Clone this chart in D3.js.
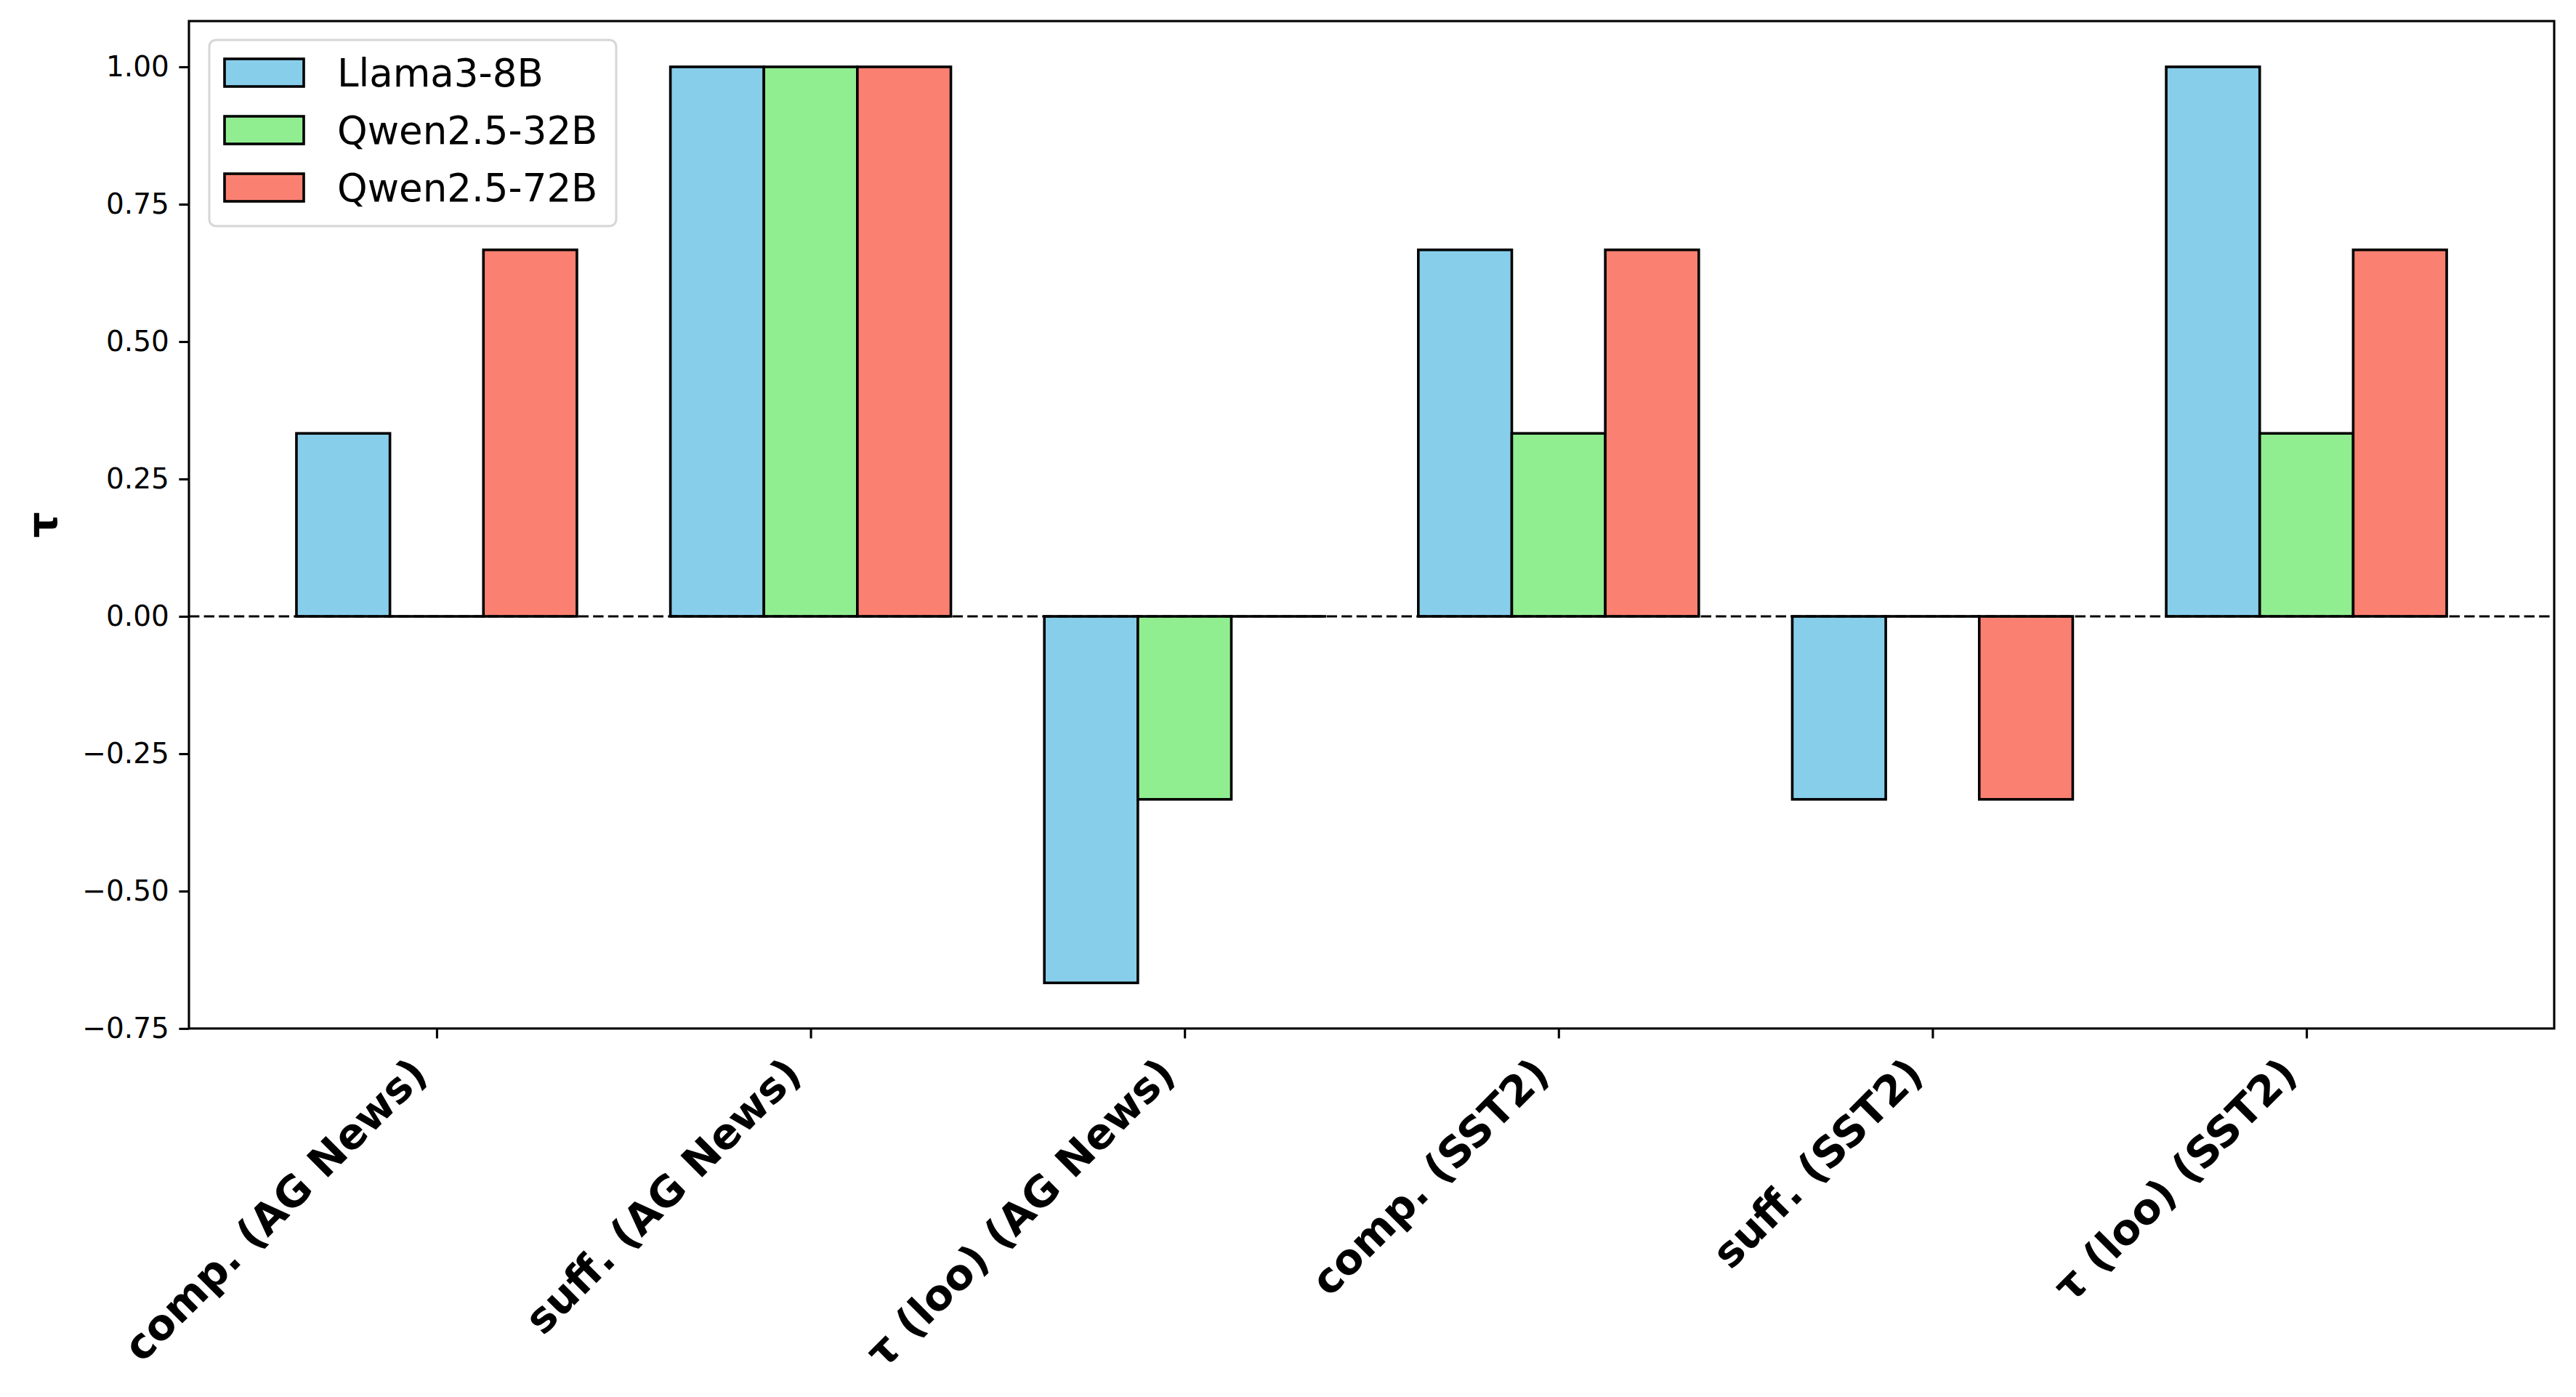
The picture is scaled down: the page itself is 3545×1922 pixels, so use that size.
<!DOCTYPE html>
<html>
<head>
<meta charset="utf-8">
<script src="https://cdn.jsdelivr.net/npm/d3@7"></script>
<style>
  body { margin: 0; background: #fff; }
  svg { display: block; }
</style>
</head>
<body>
<div id="vis-holder"></div>
<script>
// Data
const categories = ["comp. (AG News)", "suff. (AG News)", "τ (loo) (AG News)",
  "comp. (SST2)", "suff. (SST2)", "τ (loo) (SST2)"];
const models = ["Llama3-8B", "Qwen2.5-32B", "Qwen2.5-72B"];
const llama = [0.333, 1.0, -0.667, 0.667, -0.333, 1.0];
const qwen32 = [0.0, 1.0, -0.333, 0.333, 0.0, 0.333];
const qwen72 = [0.667, 1.0, 0.0, 0.667, -0.333, 0.667];
const yTicks = [-0.75, -0.5, -0.25, 0, 0.25, 0.5, 0.75, 1.0];

const series = [llama, qwen32, qwen72];
const colors = ["#87CEEB", "#90EE90", "#FA8072"];

// Dimensions
const width = 3545;
const height = 1922;
const margin = { top: 29, right: 30, bottom: 507, left: 260 };
const barW = 0.25;

const svg = d3.select("#vis-holder")
  .append("svg")
  .attr("width", width)
  .attr("height", height);

// Scales (matplotlib-style auto margins)
const x = d3.scaleLinear()
  .domain([-0.6625, 5.6625])
  .range([margin.left, width - margin.right]);

const y = d3.scaleLinear()
  .domain([-0.75, 1.0 + 0.0833])
  .range([height - margin.bottom, margin.top]);

// Bars (zero values still show as a flat outline)
series.forEach((vals, s) => {
  svg.append("g")
    .selectAll("rect")
    .data(vals)
    .enter()
    .append("rect")
    .attr("x", (d, i) => x(i + (s - 1) * barW - barW / 2))
    .attr("width", x(barW) - x(0))
    .attr("y", (d) => y(Math.max(0, d)))
    .attr("height", (d) => Math.max(0.01, Math.abs(y(d) - y(0))))
    .attr("fill", colors[s])
    .attr("stroke", "black")
    .attr("stroke-width", 3.6);
});

// Zero line
svg.append("line")
  .attr("x1", x.range()[0])
  .attr("x2", x.range()[1])
  .attr("y1", y(0))
  .attr("y2", y(0))
  .attr("stroke", "black")
  .attr("stroke-width", 3.2)
  .attr("stroke-dasharray", "14.4,6.2");

// Frame
svg.append("rect")
  .attr("x", x.range()[0])
  .attr("y", y.range()[1])
  .attr("width", x.range()[1] - x.range()[0])
  .attr("height", y.range()[0] - y.range()[1])
  .attr("fill", "none")
  .attr("stroke", "black")
  .attr("stroke-width", 3.1);

// Y axis
const yAxis = svg.append("g")
  .attr("transform", `translate(${x.range()[0]},0)`)
  .call(d3.axisLeft(y)
    .tickValues(yTicks)
    .tickFormat(d3.format(".2f"))
    .tickSize(13.6)
    .tickPadding(13.6));
yAxis.select(".domain").remove();
yAxis.selectAll(".tick line").attr("stroke-width", 3.1);
yAxis.selectAll("text")
  .attr("font-family", "DejaVu Sans")
  .attr("font-size", "39px")
  .attr("fill", "black");

// X axis
const xAxis = svg.append("g")
  .attr("transform", `translate(0,${y.range()[0]})`)
  .call(d3.axisBottom(x)
    .tickValues(d3.range(categories.length))
    .tickFormat((i) => categories[i])
    .tickSize(13.6));
xAxis.select(".domain").remove();
xAxis.selectAll(".tick line").attr("stroke-width", 3.1);

// rotated labels: right edge at tick, top just below tick
const labelTop = y.range()[0] + 13.6 + 13.6;
xAxis.selectAll(".tick text")
  .attr("font-family", "DejaVu Sans")
  .attr("font-weight", "bold")
  .attr("font-size", "58px")
  .attr("fill", "black")
  .attr("text-anchor", "end")
  .attr("x", 0)
  .attr("y", 0)
  .attr("dy", 0)
  .attr("transform", "rotate(-45)")
  .each(function (i) {
    const tickX = x(i);
    const b = this.getBoundingClientRect();
    const dx = tickX - b.right;
    const dy = labelTop - b.top;
    d3.select(this).attr("transform", `translate(${dx},${dy}) rotate(-45)`);
  });

// Y label
svg.append("text")
  .attr("transform", `translate(78,${(y.range()[0] + y.range()[1]) / 2}) rotate(-90)`)
  .attr("text-anchor", "middle")
  .attr("font-family", "DejaVu Sans")
  .attr("font-weight", "bold")
  .attr("font-size", "56px")
  .text("τ");

// Legend
const legend = svg.append("g");
legend.append("rect")
  .attr("x", 288)
  .attr("y", 55)
  .attr("width", 560)
  .attr("height", 256)
  .attr("rx", 9)
  .attr("fill", "white")
  .attr("fill-opacity", 0.8)
  .attr("stroke", "#d6d6d6")
  .attr("stroke-width", 3);

models.forEach((m, i) => {
  const cy = 100 + i * 79;
  legend.append("rect")
    .attr("x", 309)
    .attr("y", cy - 19)
    .attr("width", 109)
    .attr("height", 38)
    .attr("fill", colors[i])
    .attr("stroke", "black")
    .attr("stroke-width", 3.6);
  legend.append("text")
    .attr("x", 464)
    .attr("y", cy + 19)
    .attr("font-family", "DejaVu Sans")
    .attr("font-size", "53px")
    .text(m);
});
</script>
</body>
</html>
